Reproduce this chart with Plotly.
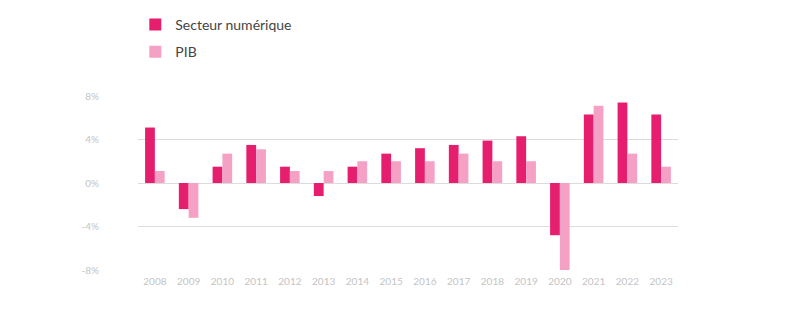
import plotly.graph_objects as go

# Croissance annuelle (%) : secteur numérique vs PIB
years = [str(y) for y in range(2008, 2024)]
secteur_numerique = [5.1, -2.4, 1.5, 3.5, 1.5, -1.2, 1.5, 2.7, 3.2, 3.5, 3.9, 4.3, -4.8, 6.3, 7.4, 6.3]
pib = [1.1, -3.2, 2.7, 3.1, 1.1, 1.1, 2.0, 2.0, 2.0, 2.7, 2.0, 2.0, -8.0, 7.1, 2.7, 1.5]

y_tick_values = [-8, -4, 0, 4, 8]
y_tick_labels = ["-8%", "-4%", "0%", "4%", "8%"]

COLOR_SECTEUR = "#E61E6E"
COLOR_PIB = "#F5A1C5"
GRID = "#DCDCDC"
TICK_TEXT = "#C4C4C4"
FONT = "Lato, 'Open Sans', sans-serif"

fig = go.Figure()
fig.add_trace(go.Bar(
    x=years, y=secteur_numerique, name="Secteur numérique",
    marker=dict(color=COLOR_SECTEUR, line=dict(width=0)),
    legendgroup="a",
))
fig.add_trace(go.Bar(
    x=years, y=pib, name="PIB",
    marker=dict(color=COLOR_PIB, line=dict(width=0)),
    legendgroup="b",
))

fig.update_layout(
    width=806, height=330,
    margin=dict(l=138, r=128, t=96, b=60, autoexpand=False),
    paper_bgcolor="white", plot_bgcolor="white",
    barmode="group", bargap=0.42, bargroupgap=0,
    font=dict(family=FONT, color="#444444"),
    showlegend=True,
    legend=dict(
        x=-0.005, xanchor="left", y=1.5, yanchor="top",
        orientation="v", font=dict(size=14, color="#444444"),
        tracegroupgap=6, bgcolor="rgba(0,0,0,0)",
    ),
    xaxis=dict(
        type="category", showgrid=False, zeroline=False, showline=False,
        ticks="", tickfont=dict(size=10, color=TICK_TEXT), ticklabelstandoff=4,
    ),
    yaxis=dict(
        range=[-8, 8], tickvals=y_tick_values, ticktext=y_tick_labels,
        showgrid=True, gridcolor=GRID, gridwidth=1,
        zeroline=False, showline=False, ticks="",
        tickfont=dict(size=10, color=TICK_TEXT), ticklabelstandoff=38,
    ),
)

fig.write_html("out.html")
